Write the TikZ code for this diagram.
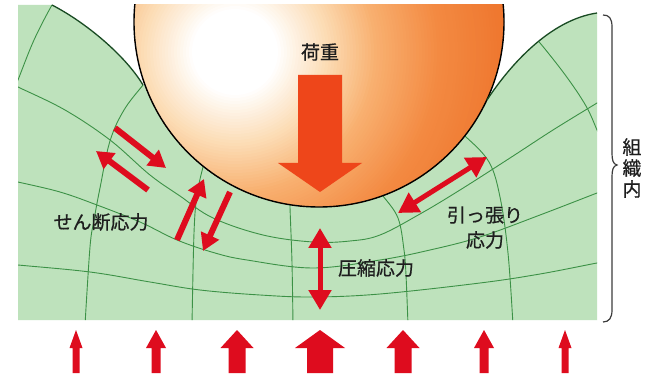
\documentclass[tikz,border=0pt]{standalone}
\usepackage{fontspec}
\newfontfamily\jp[FakeBold=0.6]{Noto Sans CJK JP}
\usetikzlibrary{arrows.meta}

\definecolor{tissue}{RGB}{190,226,188}
\definecolor{gridgreen}{RGB}{60,145,70}
\definecolor{edgegreen}{RGB}{25,75,35}
\definecolor{stressred}{RGB}{222,12,30}
\definecolor{loadred}{RGB}{238,70,26}
\definecolor{sphA}{RGB}{252,220,180}
\definecolor{sphB}{RGB}{248,176,112}
\definecolor{sphC}{RGB}{243,138,66}
\definecolor{sphD}{RGB}{238,116,44}
\definecolor{inktext}{RGB}{30,30,30}
\definecolor{bracegray}{RGB}{60,60,60}

\tikzset{
  gridline/.style={gridgreen, line width=0.9pt},
  rim/.style={edgegreen, line width=1.3pt},
  txt/.style={font=\jp\fontsize{19}{21}\selectfont, text=inktext, inner sep=0pt},
  shear/.style={stressred, line width=6pt, -{Triangle[length=17pt,width=19pt]}},
  bishear/.style={stressred, line width=5pt,
    {Triangle[length=20pt,width=22pt]}-{Triangle[length=20pt,width=22pt]}},
}

% upward block arrow: x centre, shaft half width, head half width
\newcommand\blockup[3]{%
  \fill[stressred] (#1-#2,373) -- (#1-#2,348) -- (#1-#3,348) -- (#1,330)
    -- (#1+#3,348) -- (#1+#2,348) -- (#1+#2,373) -- cycle;}

% one band of the ball's light fall-off: outer radius, inner radius, inner colour, outer colour
\newcommand\lightband[4]{%
  \foreach \r in {#1,\the\numexpr#1-3\relax,...,#2} {
    \pgfmathsetmacro\p{(#1-\r)/(#1-#2)*100}
    \fill[#3!\p!#4] (235,52) circle[radius=\r];
  }}

\newcommand\tissueoutline{(18,5) -- (52,5) .. controls (85,22) and (125,55) .. (143,85)
  -- (487,100) .. controls (510,65) and (550,20) .. (597,13)
  -- (597,320) -- (18,320) -- cycle}

\begin{document}
\begin{tikzpicture}[x=1pt,y=-1pt]
\useasboundingbox (0,0) rectangle (654,377);
\fill[white] (0,0) rectangle (654,377);

% tissue block
\fill[tissue] \tissueoutline;
\begin{scope}
  \clip \tissueoutline;
  % layers
  \draw[gridline] plot[smooth,tension=0.6] coordinates {(10,83) (18,87) (65,110) (110,140)
    (150,175) (180,196) (213,218) (263,235) (313,242) (350,241) (380,235) (420,214)
    (460,190) (510,158) (553,130) (597,103) (605,98)};
  \draw[gridline] plot[smooth,tension=0.6] coordinates {(10,180) (18,182) (60,192) (97,205)
    (140,222) (177,240) (215,253) (247,260) (313,268) (380,260) (430,250) (480,237)
    (540,215) (597,193) (605,190)};
  \draw[gridline] plot[smooth,tension=0.6] coordinates {(10,264) (18,265) (90,272)
    (150,282) (200,290) (260,295) (313,297) (380,294) (480,283) (540,274) (597,263) (605,262)};
  % cross lines
  \draw[gridline] plot[smooth,tension=0.6] coordinates {(57,0) (52,5) (34,40) (18,80) (12,95)};
  \draw[gridline] plot[smooth,tension=0.6] coordinates {(150,76) (143,85) (124,110) (110,141)
    (100,188) (94,220) (90,247) (85,325)};
  \draw[gridline] plot[smooth,tension=0.6] coordinates {(206,158) (203,167) (197,195)
    (194,233) (192,325)};
  \draw[gridline] plot[smooth,tension=0.6] coordinates {(290,195) (290,207) (292,263) (293,325)};
  \draw[gridline] plot[smooth,tension=0.6] coordinates {(376,188) (383,196) (398,218)
    (404,250) (406,275) (408,325)};
  \draw[gridline] plot[smooth,tension=0.6] coordinates {(455,130) (466,137) (489,162)
    (500,197) (508,253) (513,325)};
  \draw[gridline] plot[smooth,tension=0.6] coordinates {(532,36) (540,43) (566,76)
    (586,106) (597,130) (602,142)};
\end{scope}

% the ball pressing down, lit from the upper left
\begin{scope}
  \clip (0,5) rectangle (654,377);
  \begin{scope}
    \clip (319,22) circle[radius=185];
    \fill[sphD] (319,22) circle[radius=200];
    \lightband{280}{205}{sphC}{sphD}
    \lightband{205}{142}{sphB}{sphC}
    \lightband{142}{94}{sphA}{sphB}
    \lightband{94}{43}{white}{sphA}
    \fill[white] (235,52) circle[radius=43];
  \end{scope}
  \draw[black, line width=1.4pt] (319,22) circle[radius=185];
\end{scope}

% tissue surface
\draw[rim] (52,5) .. controls (85,22) and (125,55) .. (143,85);
\draw[rim] (487,100) .. controls (510,65) and (550,20) .. (597,13);

% load
\node[txt] (load) at (320,52) {荷重};
\fill[loadred] (298,75) -- (342,75) -- (342,163) -- (362,163) -- (320,192)
  -- (278,163) -- (298,163) -- cycle;

% stress arrows
\coordinate (sa1) at (115,128);  \coordinate (sb1) at (166,168);
\coordinate (sa2) at (148,190);  \coordinate (sb2) at (96,151);
\coordinate (sa3) at (177,240);  \coordinate (sb3) at (204,179);
\coordinate (sa4) at (230,192);  \coordinate (sb4) at (203,251);
\draw[shear] (sa1) -- (sb1);
\draw[shear] (sa2) -- (sb2);
\draw[shear] (sa3) -- (sb3);
\draw[shear] (sa4) -- (sb4);

\coordinate (ca) at (320,228);  \coordinate (cb) at (320,310);
\draw[bishear] (ca) -- (cb);
\coordinate (ta) at (398,213);  \coordinate (tb) at (487,157);
\draw[bishear] (ta) -- (tb);

% labels
\node[txt] (shearlabel) at (101,222) {せん断応力};
\node[txt] (presslabel) at (376,268) {圧縮応力};
\node[txt] (pulllabel) at (485,215) {引っ張り};
\node[txt] (pulllabel2) at (485,240) {応力};

% support reaction
\blockup{76}{3.5}{6.5}
\blockup{156}{4.5}{10}
\blockup{237}{8.5}{16.5}
\blockup{320}{13}{25}
\blockup{403}{8.5}{16.5}
\blockup{484}{4.5}{10}
\blockup{565}{3.5}{6.5}

% brace over the tissue depth
\draw[bracegray, line width=1.2pt] (603,15) .. controls (609,15) and (612,18) .. (612,27)
  -- (612,153) .. controls (612,160) and (613,164) .. (617,165)
  .. controls (613,166) and (612,170) .. (612,177)
  -- (612,310) .. controls (612,318) and (609,322) .. (603,322);
\node[txt, align=center] (tissuelabel) at (632,168) {組\\織\\内};
\end{tikzpicture}
\end{document}
